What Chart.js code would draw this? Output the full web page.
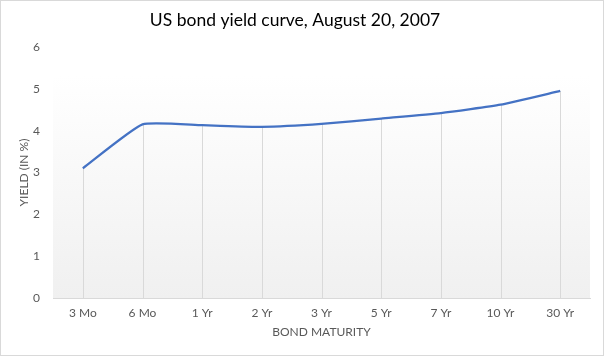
<!DOCTYPE html>
<html>
<head>
<meta charset="utf-8">
<script src="https://cdn.jsdelivr.net/npm/chart.js@4"></script>
<style>
html,body{margin:0;padding:0;background:#fff;}
canvas{display:block;}
</style>
</head>
<body>
<canvas id="c" width="605" height="357"></canvas>
<script>
const categories = ["3 Mo", "6 Mo", "1 Yr", "2 Yr", "3 Yr", "5 Yr", "7 Yr", "10 Yr", "30 Yr"];
const yields = [3.10, 4.15, 4.13, 4.09, 4.16, 4.29, 4.42, 4.62, 4.95];
const yTicks = [0, 1, 2, 3, 4, 5, 6];
const chartTitle = "US bond yield curve, August 20, 2007";
const xTitle = "BOND MATURITY";
const yTitle = "YIELD (IN %)";

const FONT = "Lato, 'Open Sans', sans-serif";

const decor = {
  id: 'decor',
  beforeDraw(chart) {
    const ctx = chart.ctx;
    const a = chart.chartArea;
    ctx.save();
    ctx.fillStyle = '#ffffff';
    ctx.fillRect(0, 0, chart.width, chart.height);
    const top = a.top + 29;
    const g = ctx.createLinearGradient(0, top, 0, a.bottom);
    g.addColorStop(0, '#ffffff');
    g.addColorStop(1, '#f0f0f0');
    ctx.fillStyle = g;
    ctx.fillRect(a.left, top, a.right - a.left, a.bottom - top);
    ctx.strokeStyle = '#d9d9d9';
    ctx.lineWidth = 1;
    ctx.strokeRect(0.5, 0.5, 603, 355);
    ctx.restore();
  },
  beforeDatasetsDraw(chart) {
    const ctx = chart.ctx;
    const meta = chart.getDatasetMeta(0);
    const yScale = chart.scales.y;
    const base = yScale.getPixelForValue(0);
    ctx.save();
    ctx.strokeStyle = '#d9d9d9';
    ctx.lineWidth = 1;
    meta.data.forEach(p => {
      const x = Math.round(p.x) + 0.5;
      ctx.beginPath();
      ctx.moveTo(x, base);
      ctx.lineTo(x, p.y);
      ctx.stroke();
    });
    ctx.restore();
  }
};

new Chart(document.getElementById('c'), {
  type: 'line',
  data: {
    labels: categories,
    datasets: [{
      data: yields,
      borderColor: '#4472c4',
      borderWidth: 2.25,
      pointRadius: 0,
      pointHoverRadius: 0,
      fill: false,
      tension: 0.15
    }]
  },
  options: {
    responsive: false,
    animation: false,
    devicePixelRatio: 1,
    layout: { padding: { left: 0, right: 15, top: 0, bottom: 0 } },
    plugins: {
      legend: { display: false },
      tooltip: { enabled: false },
      title: {
        display: true,
        text: chartTitle,
        color: '#000000',
        font: { family: FONT, size: 17.5, weight: 'normal' },
        padding: { top: 10, bottom: 16 }
      }
    },
    scales: {
      x: {
        offset: true,
        grid: { display: false, drawTicks: false, offset: true },
        border: { display: true, color: '#d9d9d9', width: 1 },
        ticks: {
          color: '#595959',
          font: { family: FONT, size: 12 },
          padding: 8,
          maxRotation: 0
        },
        title: {
          display: true,
          text: xTitle,
          color: '#595959',
          font: { family: FONT, size: 12 },
          padding: { top: 0, bottom: 18 }
        },
        afterFit(scale) { scale.height = 59; }
      },
      y: {
        min: 0,
        max: 6,
        afterBuildTicks(scale) { scale.ticks = yTicks.map(v => ({ value: v })); },
        grid: { display: false, drawTicks: false },
        border: { display: false },
        ticks: {
          color: '#595959',
          font: { family: FONT, size: 12 },
          padding: 13
        },
        title: {
          display: true,
          text: yTitle,
          color: '#595959',
          font: { family: FONT, size: 12 },
          padding: { top: 17, bottom: 0 }
        },
        afterFit(scale) { scale.width = 53; }
      }
    }
  },
  plugins: [decor]
});
</script>
</body>
</html>
